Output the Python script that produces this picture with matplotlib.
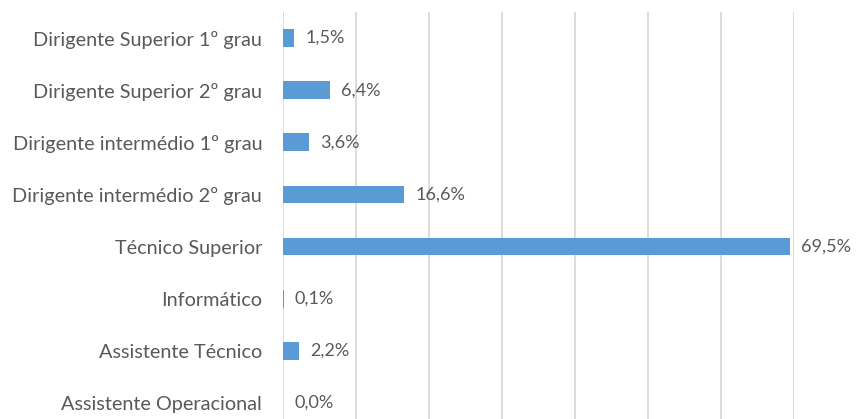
import matplotlib
matplotlib.use("Agg")
import matplotlib.pyplot as plt

categories = ["Dirigente Superior 1º grau", "Dirigente Superior 2º grau",
              "Dirigente intermédio 1º grau", "Dirigente intermédio 2º grau",
              "Técnico Superior", "Informático", "Assistente Técnico",
              "Assistente Operacional"]
values = [1.5, 6.4, 3.6, 16.6, 69.5, 0.1, 2.2, 0.0]
labels = ["1,5%", "6,4%", "3,6%", "16,6%", "69,5%", "0,1%", "2,2%", "0,0%"]

plt.rcParams['font.family'] = ['Lato', 'DejaVu Sans']

fig = plt.figure(figsize=(8.58, 4.19), dpi=100)
W, H = 858, 419
left, right = 283 / W, 794 / W
top_px, bot_px = 12, 429
ax = fig.add_axes([left, 1 - bot_px / H, right - left, (bot_px - top_px) / H])

y = list(range(len(categories)))
ax.barh(y, values, height=0.34, color="#5B9BD5", zorder=3)
ax.set_xlim(0, 70)
ax.set_ylim(len(categories) - 0.5, -0.5)
ax.set_xticks([0, 10, 20, 30, 40, 50, 60, 70])
ax.xaxis.grid(True, color="#D9D9D9", linewidth=1.3, zorder=0)
ax.tick_params(axis='x', length=0, labelbottom=False)
ax.tick_params(axis='y', length=0, pad=15, labelsize=14.3, labelcolor="#595959")
ax.set_yticks(y)
ax.set_yticklabels(categories)
for s in ax.spines.values():
    s.set_visible(False)

for yi, v, lab in zip(y, values, labels):
    ax.annotate(lab, xy=(v, yi), xytext=(8, 0), textcoords="offset points",
                va="center", ha="left", fontsize=13, color="#595959")

fig.savefig("out.png", dpi=100)
